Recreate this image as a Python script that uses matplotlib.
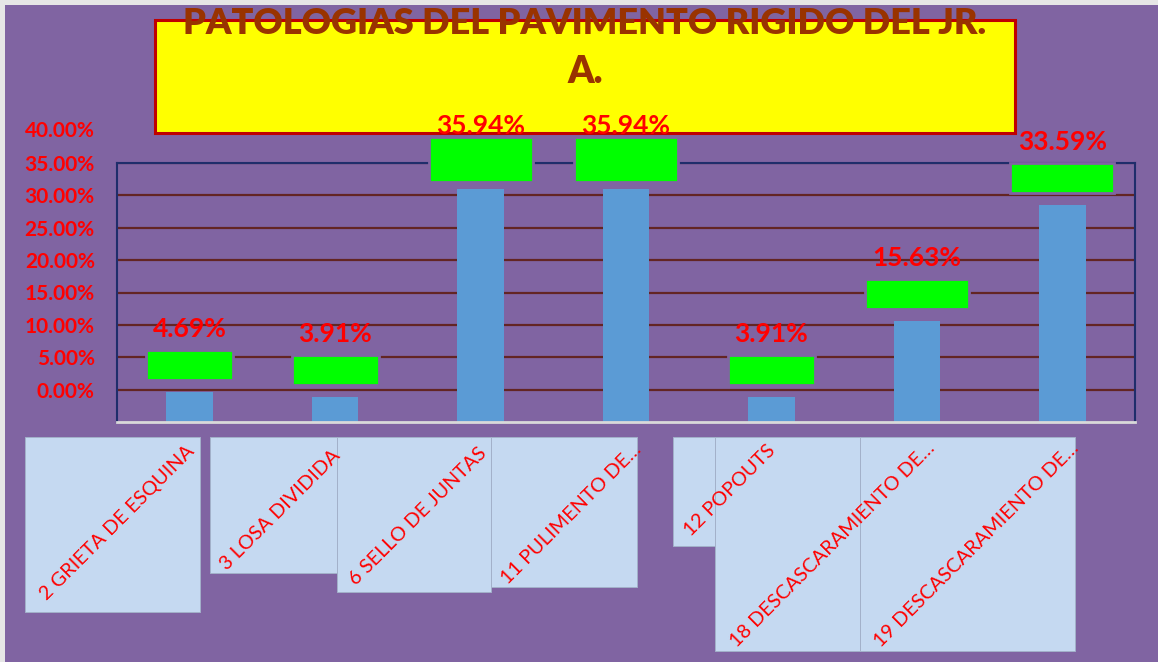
import numpy as np
import matplotlib.pyplot as plt
from matplotlib.patches import Rectangle
from matplotlib.transforms import offset_copy

W, H = 1158, 662

# ── datos ─────────────────────────────────────────────
categories = ["2 GRIETA DE ESQUINA", "3 LOSA DIVIDIDA", "6 SELLO DE JUNTAS",
              "11 PULIMENTO DE…", "12 POPOUTS", "18 DESCASCARAMIENTO DE…",
              "19 DESCASCARAMIENTO DE…"]
values = [0.0469, 0.0391, 0.3594, 0.3594, 0.0391, 0.1563, 0.3359]
value_labels = ["4.69%", "3.91%", "35.94%", "35.94%", "3.91%", "15.63%", "33.59%"]
ytick_labels = ["0.00%", "5.00%", "10.00%", "15.00%", "20.00%", "25.00%",
                "30.00%", "35.00%", "40.00%"]
title = "PATOLOGIAS DEL PAVIMENTO RIGIDO DEL JR.\nA."

# ── estilo ────────────────────────────────────────────
BG = "#8064A2"
BAR = "#5B9BD5"
GREEN = "#00FF00"
RED = "#FF0000"
GRID = "#632523"
NAVY = "#1F2D6B"
TITLE_CLR = "#993300"
BOX_CLR = "#C5D9F1"

# cajas de etiquetas de categoría (px): x0, x1, y inferior ; punto final del texto
LABEL_BOXES = [(25, 200, 612), (210, 337, 573), (337, 491, 592), (491, 637, 587),
               (673, 715, 546), (715, 860, 651), (860, 1075, 651)]
LABEL_ENDS = [(198, 442), (343, 447), (490, 444), (644, 441),
              (779, 442), (938, 439), (1082, 439)]

plt.rcParams["font.family"] = ["Lato", "DejaVu Sans"]


def fx(x):
    return x / W


def fy(y):
    return 1 - y / H


fig = plt.figure(figsize=(W / 100, H / 100), dpi=100, facecolor=BG)

# borde gris del marco
fig.add_artist(Rectangle((0, fy(5)), 1, 5 / H, transform=fig.transFigure,
                         facecolor="#E6E6E6", edgecolor="none", zorder=0))
fig.add_artist(Rectangle((0, 0), fx(5), 1, transform=fig.transFigure,
                         facecolor="#E6E6E6", edgecolor="none", zorder=0))

# caja del título
fig.add_artist(Rectangle((fx(155), fy(133)), fx(1015) - fx(155), fy(20) - fy(133),
                         transform=fig.transFigure, facecolor="#FFFF00",
                         edgecolor="#C00000", linewidth=2.2, zorder=1))
line1, line2 = title.split("\n")
fig.text(fx(585), fy(23), line1, ha="center", va="center", fontsize=26,
         fontweight="heavy", color=TITLE_CLR, zorder=5)
fig.text(fx(585), fy(72), line2, ha="center", va="center", fontsize=27,
         fontweight="heavy", color=TITLE_CLR, zorder=5)

# ── gráfico de barras ─────────────────────────────────
ax = fig.add_axes([fx(117), fy(422), fx(1135) - fx(117), fy(163) - fy(422)], zorder=3)
ax.set_facecolor("none")
x = np.arange(len(values))
ax.bar(x, values, width=0.32, color=BAR, zorder=2)
ax.set_xlim(-0.5, len(values) - 0.5)
ax.set_ylim(0, 0.40)

# las etiquetas del eje están desplazadas un paso (como en el original)
ticks = np.arange(1, 9) * 0.05
ax.set_yticks(ticks, ytick_labels[:-1])
ax.yaxis.grid(True, color=GRID, linewidth=1.6)
ax.set_axisbelow(True)
ax.tick_params(axis="y", length=0, pad=16, labelcolor=RED, labelsize=15)
for t in ax.get_yticklabels():
    t.set_fontweight("bold")
ax.set_xticks([])
ax.text(0, 0.45, ytick_labels[-1], ha="right", va="center", color=RED,
        fontsize=15, fontweight="bold", clip_on=False,
        transform=offset_copy(ax.get_yaxis_transform(), fig, x=-16, units="points"))

for side in ["left", "top", "right"]:
    ax.spines[side].set_color(NAVY)
    ax.spines[side].set_linewidth(1.5)
ax.spines["bottom"].set_color("#D9D9D9")
ax.spines["bottom"].set_linewidth(2)

# cajas verdes con etiquetas de datos
ppu = (422 - 163) / 0.40     # px por unidad en y
ppx = (1135 - 117) / len(values)
for i, (v, lab) in enumerate(zip(values, value_labels)):
    w = (87 if len(lab) <= 5 else 104) / ppx
    if v >= 0.35:
        y0, h = v + 7 / ppu, 45 / ppu
    else:
        y0, h = v + 12 / ppu, 30 / ppu
    ax.add_patch(Rectangle((i - w / 2, y0), w, h, facecolor=GREEN, edgecolor=BG,
                           linewidth=2, clip_on=False, zorder=4))
    ax.text(i, v + 63 / ppu, lab, ha="center", va="center", color=RED,
            fontsize=19, fontweight="bold", clip_on=False, zorder=6)

# etiquetas de categoría en cajas celestes
for (x0, x1, yb) in LABEL_BOXES:
    fig.add_artist(Rectangle((fx(x0), fy(yb)), fx(x1) - fx(x0), fy(437) - fy(yb),
                             transform=fig.transFigure, facecolor=BOX_CLR,
                             edgecolor="#A3B1CA", linewidth=0.7, zorder=1))
for (xe, ye), cat in zip(LABEL_ENDS, categories):
    fig.text(fx(xe), fy(ye), cat, rotation=45, ha="right", va="top",
             color=RED, fontsize=14.3, zorder=2)

fig.savefig("out.png", dpi=100, facecolor=BG)
